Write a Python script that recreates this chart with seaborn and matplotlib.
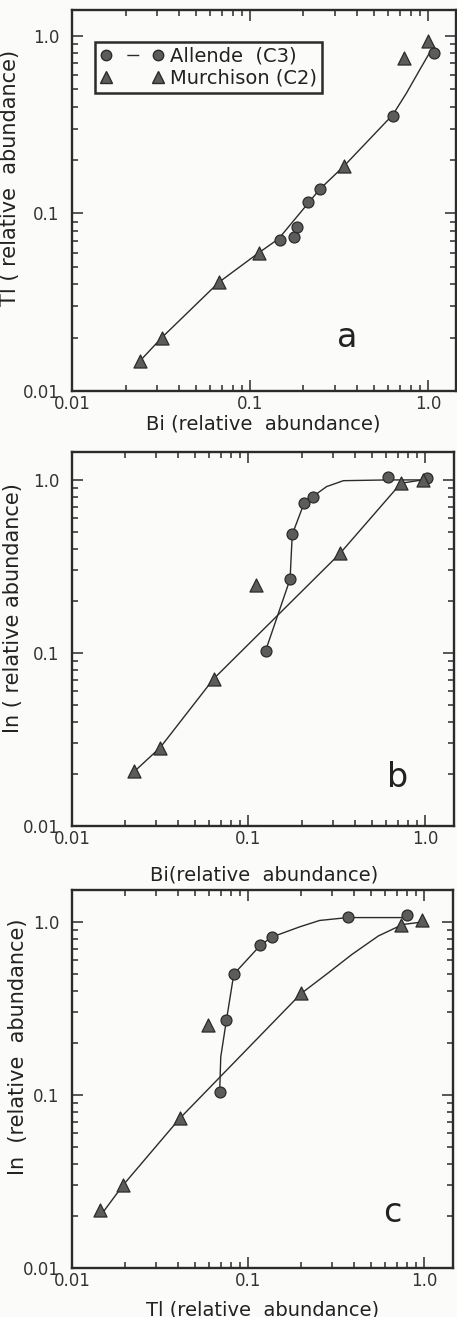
import numpy as np
import pandas as pd
import matplotlib.pyplot as plt
import seaborn as sns
from matplotlib.lines import Line2D
from matplotlib.ticker import LogLocator, FixedLocator, NullFormatter

# ---- data (relative abundances) ----
# panel a: Tl vs Bi
a_allende_bi = [0.147, 0.178, 0.185, 0.213, 0.247, 0.636, 1.08]
a_allende_tl = [0.071, 0.074, 0.084, 0.116, 0.137, 0.356, 0.80]
a_murch_bi = [0.024, 0.032, 0.067, 0.112, 0.338, 0.73, 1.0]
a_murch_tl = [0.0147, 0.020, 0.041, 0.060, 0.185, 0.75, 0.94]
a_fit_bi = [0.024, 0.032, 0.067, 0.112, 0.145, 0.247, 0.338, 0.636, 0.758, 0.90, 1.035]
a_fit_tl = [0.0147, 0.020, 0.041, 0.060, 0.072, 0.137, 0.185, 0.36, 0.476, 0.644, 0.82]

# panel b: In vs Bi
b_allende_bi = [0.125, 0.172, 0.177, 0.207, 0.231, 0.62, 1.02]
b_allende_in = [0.103, 0.267, 0.484, 0.739, 0.80, 1.036, 1.02]
b_murch_bi = [0.0226, 0.0316, 0.0634, 0.110, 0.330, 0.731, 0.97]
b_murch_in = [0.0207, 0.0284, 0.0708, 0.246, 0.376, 0.957, 1.0]
b_fit_allende_bi = [0.125, 0.172, 0.177, 0.207, 0.231, 0.277, 0.345, 0.62, 1.0]
b_fit_allende_in = [0.103, 0.267, 0.484, 0.739, 0.80, 0.915, 0.99, 1.0, 1.0]
b_fit_murch_bi = [0.0226, 0.0316, 0.0634, 0.330, 0.731, 0.97]
b_fit_murch_in = [0.0207, 0.0284, 0.0708, 0.376, 0.957, 1.0]

# panel c: In vs Tl
c_allende_tl = [0.069, 0.0754, 0.083, 0.1175, 0.137, 0.368, 0.80]
c_allende_in = [0.1045, 0.271, 0.499, 0.733, 0.819, 1.069, 1.097]
c_murch_tl = [0.01435, 0.0196, 0.0410, 0.0594, 0.2004, 0.738, 0.977]
c_murch_in = [0.0217, 0.0303, 0.0733, 0.253, 0.386, 0.962, 1.03]
c_fit_allende_tl = [0.069, 0.070, 0.0754, 0.083, 0.1175, 0.137, 0.196, 0.255, 0.368, 0.79]
c_fit_allende_in = [0.1045, 0.166, 0.271, 0.499, 0.733, 0.819, 0.936, 1.02, 1.06, 1.06]
c_fit_murch_tl = [0.0150, 0.0196, 0.0410, 0.2004, 0.28, 0.39, 0.55, 0.754, 0.98]
c_fit_murch_in = [0.021, 0.0303, 0.0733, 0.386, 0.50, 0.65, 0.83, 0.966, 1.0]

panel_letters = ['a', 'b', 'c']

sns.set_style('ticks')
plt.rcParams['font.family'] = ['DejaVu Sans']
plt.rcParams['lines.scale_dashes'] = False

ink = '#2b2b2b'
fill = '#5c5c5c'
paper = '#fbfbf9'

fig = plt.figure(figsize=(4.57, 13.17), dpi=100, facecolor=paper)
W, H = 457.0, 1317.0


def box(left, right, top, bottom):
    return [left / W, 1 - bottom / H, (right - left) / W, (bottom - top) / H]


ax_a = fig.add_axes(box(72, 456, 10, 391))
ax_b = fig.add_axes(box(72, 454, 452, 826))
ax_c = fig.add_axes(box(72, 453, 890, 1268))


def draw(ax, cx, cy, tx, ty, fits):
    for fx, fy in fits:
        sns.lineplot(x=fx, y=fy, ax=ax, sort=False, estimator=None,
                     color=ink, linewidth=1.0)
    sns.scatterplot(x=cx, y=cy, ax=ax, marker='o', s=62, color=fill,
                    edgecolor=ink, linewidth=0.9, zorder=3)
    sns.scatterplot(x=tx, y=ty, ax=ax, marker='^', s=88, color=fill,
                    edgecolor=ink, linewidth=0.9, zorder=3)


draw(ax_a, a_allende_bi, a_allende_tl, a_murch_bi, a_murch_tl,
     [(a_fit_bi, a_fit_tl)])
draw(ax_b, b_allende_bi, b_allende_in, b_murch_bi, b_murch_in,
     [(b_fit_allende_bi, b_fit_allende_in), (b_fit_murch_bi, b_fit_murch_in)])
draw(ax_c, c_allende_tl, c_allende_in, c_murch_tl, c_murch_in,
     [(c_fit_allende_tl, c_fit_allende_in), (c_fit_murch_tl, c_fit_murch_in)])

limits = [((0.01, 1.44), (0.01, 1.40)),
          ((0.01, 1.46), (0.01, 1.45)),
          ((0.01, 1.46), (0.01, 1.53))]
xlabels = ['Bi (relative  abundance)', 'Bi(relative  abundance)', 'Tl (relative  abundance)']
ylabels = ['Tl ( relative  abundance)', 'In ( relative abundance)', 'In  (relative  abundance)']
ylab_pos = [(-0.136, 0.558), (-0.128, 0.584), (-0.116, 0.585)]
xlab_pos = [(0.497, -0.062), (0.503, -0.105), (0.50, -0.085)]
letter_pos = [(0.716, 0.141), (0.853, 0.129), (0.840, 0.148)]

for ax, (xl, yl), xlab, ylab, yp, xp, lp, let in zip(
        [ax_a, ax_b, ax_c], limits, xlabels, ylabels, ylab_pos, xlab_pos,
        letter_pos, panel_letters):
    ax.set_facecolor(paper)
    ax.set_xscale('log')
    ax.set_yscale('log')
    ax.set_xlim(*xl)
    ax.set_ylim(*yl)
    ax.xaxis.set_major_locator(FixedLocator([0.01, 0.1, 1.0]))
    ax.yaxis.set_major_locator(FixedLocator([0.01, 0.1, 1.0]))
    ax.set_xticklabels(['0.01', '0.1', '1.0'])
    ax.set_yticklabels(['0.01', '0.1', '1.0'])
    for axis in (ax.xaxis, ax.yaxis):
        axis.set_minor_locator(LogLocator(base=10, subs=np.arange(2, 10)))
        axis.set_minor_formatter(NullFormatter())
    ax.tick_params(which='both', direction='in', top=True, right=True,
                   color=ink, width=1.1)
    ax.tick_params(which='major', length=8, labelsize=12, labelcolor='#333333')
    ax.tick_params(axis='y', which='major', pad=9)
    ax.tick_params(axis='x', which='major', pad=3)
    ax.tick_params(which='minor', length=4.5)
    for sp in ax.spines.values():
        sp.set_visible(True)
        sp.set_color(ink)
        sp.set_linewidth(1.7)
    ax.set_xlabel(xlab, fontsize=14, color='#222222')
    ax.set_ylabel(ylab, fontsize=15, color='#222222')
    ax.xaxis.set_label_coords(*xp)
    ax.yaxis.set_label_coords(*yp)
    ax.text(lp[0], lp[1], let, transform=ax.transAxes, fontsize=24,
            color='#222222', ha='center', va='center')

# legend of panel a: circle - dash - circle, triangle ... triangle
handles = [
    Line2D([], [], color=ink, linewidth=1.0, linestyle=(993.6, (8.6, 1000)),
           marker='o', markersize=7.5, markerfacecolor=fill, markeredgecolor=ink),
    Line2D([], [], color=ink, linewidth=0, marker='^', markersize=8.5,
           markerfacecolor=fill, markeredgecolor=ink),
]
leg = ax_a.legend(handles, ['Allende  (C3)', 'Murchison (C2)'], loc='upper left',
                  bbox_to_anchor=(0.060, 0.916), borderaxespad=0, numpoints=2,
                  handlelength=3.3, handletextpad=0.3, fontsize=14,
                  frameon=True, fancybox=False, borderpad=0.25,
                  labelspacing=0.15, edgecolor=ink, facecolor=paper)
leg.get_frame().set_linewidth(1.8)
leg.get_frame().set_alpha(1)
for t in leg.get_texts():
    t.set_color('#222222')

fig.savefig('out.png', dpi=100, facecolor=paper)
